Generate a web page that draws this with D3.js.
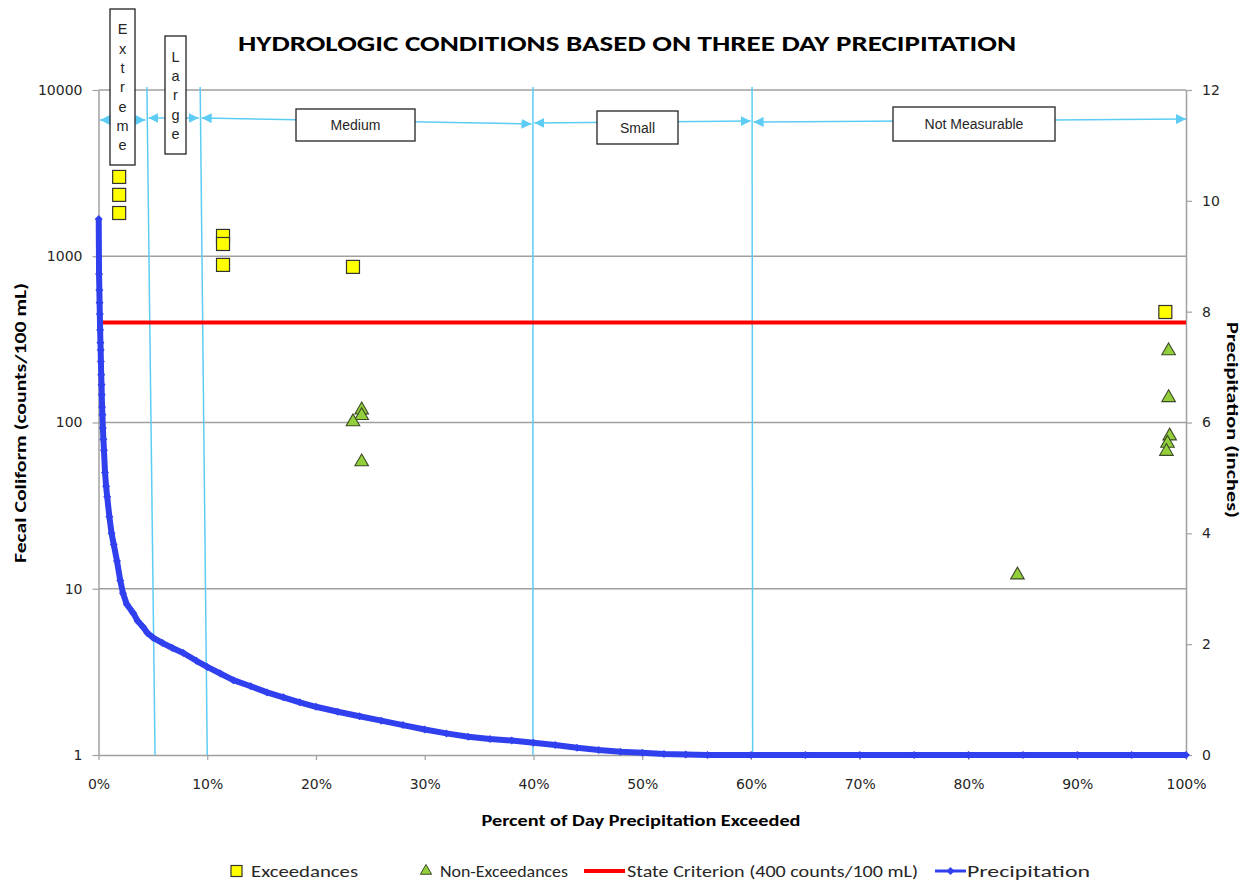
<!DOCTYPE html>
<html>
<head>
<meta charset="utf-8">
<script src="https://cdn.jsdelivr.net/npm/d3@7"></script>
<style>
  body { margin: 0; background: #fff; }
  svg { display: block; }
</style>
</head>
<body>
<div id="chart-area"></div>
<script>
// ---- data ----
const xTicks = [0, 10, 20, 30, 40, 50, 60, 70, 80, 90, 100];
const leftTicks = [1, 10, 100, 1000, 10000];
const rightTicks = [0, 2, 4, 6, 8, 10, 12];

// precipitation exceedance curve (percent exceeded, inches)
const precipPct = [0.02, 0.05, 0.08, 0.1, 0.12, 0.15, 0.18, 0.2, 0.22, 0.25, 0.28, 0.3, 0.33, 0.36,
  0.4, 0.45, 0.5, 0.6, 0.7, 0.8, 1.0, 1.2, 1.4, 1.7, 2.0, 2.25, 2.6, 3.2, 3.6, 4.1, 4.5, 5.0,
  5.9, 6.8, 7.8, 9, 10, 11.2, 12.4, 14, 15.5, 17, 18.5, 20, 22, 24, 26, 28, 30, 32, 34, 36,
  38, 40, 42, 44, 46, 48, 50, 52, 54, 56, 60, 65, 70, 75, 80, 85, 90, 95, 100];
const precipIn = [9.67, 8.68, 8.39, 8.16, 7.96, 7.67, 7.44, 7.31, 7.1, 6.86, 6.68, 6.5, 6.28, 6.14,
  5.9, 5.7, 5.5, 5.1, 4.85, 4.66, 4.3, 4.0, 3.8, 3.5, 3.15, 2.92, 2.72, 2.56, 2.42, 2.31, 2.2, 2.12,
  2.02, 1.93, 1.84, 1.7, 1.59, 1.47, 1.35, 1.24, 1.13, 1.04, 0.95, 0.87, 0.78, 0.7, 0.62, 0.54, 0.46, 0.39, 0.33, 0.29,
  0.26, 0.22, 0.18, 0.13, 0.09, 0.06, 0.04, 0.02, 0.01, 0, 0, 0, 0, 0, 0, 0, 0, 0, 0];

const exceedPct = [1.9, 1.9, 1.9, 11.45, 11.45, 11.45, 23.4, 98.1];
const exceedVal = [3000, 2340, 1820, 1325, 1185, 887, 863, 462];

const nonExceedPct = [24.2, 24.2, 23.4, 24.2, 84.5, 98.4, 98.4, 98.5, 98.3, 98.2];
const nonExceedVal = [119, 110, 101, 58, 12.1, 270, 141, 83, 75, 67];

const criterion = 400;

// hydrologic condition zones
const zoneNames = ["Extreme", "Large", "Medium", "Small", "Not Measurable"];
const zoneBounds = [0, 4.45, 9.35, 39.95, 60.1, 100];
const dividerTop = [4.45, 9.35, 39.95, 60.1];
const dividerBottom = [5.2, 10.0, 39.95, 60.15];

// ---- layout ----
const W = 1248, H = 884;
const plot = {left: 98.5, right: 1186, top: 90, bottom: 755};
const lblBlue = "#5cccf5";
const precipBlue = "#3040ee";
const gridGray = "#a0a0a0";
const txt = "#262626";
const narrow = "Carlito, 'Liberation Sans Narrow', 'Open Sans', sans-serif";

const svg = d3.select("#chart-area").append("svg")
    .attr("width", W).attr("height", H);

const xScale = d3.scaleLinear().domain([0, 100]).range([plot.left, plot.right]);
const yLeft = d3.scaleLog().domain([1, 10000]).range([plot.bottom, plot.top]);
const yRight = d3.scaleLinear().domain([0, 12]).range([plot.bottom, plot.top]);

// gridlines
svg.append("g").selectAll("line")
  .data(leftTicks.filter(d => d > 1))
  .enter().append("line")
  .attr("x1", plot.left).attr("x2", plot.right)
  .attr("y1", d => yLeft(d)).attr("y2", d => yLeft(d))
  .attr("stroke", gridGray).attr("stroke-width", 1.5);

// axes
const xAxisGen = d3.axisBottom(xScale).tickValues(xTicks).tickFormat(d => d + "%")
    .tickSize(5).tickSizeOuter(0).tickPadding(19);
const yAxisGen = d3.axisLeft(yLeft).tickValues(leftTicks).tickFormat(d3.format("d"))
    .tickSize(6).tickSizeOuter(0).tickPadding(10);
const y2AxisGen = d3.axisRight(yRight).tickValues(rightTicks)
    .tickSize(6).tickSizeOuter(0).tickPadding(10);

function styleAxis(g) {
  g.attr("font-family", "'DejaVu Sans', Verdana, sans-serif").attr("font-size", 14);
  g.select(".domain").attr("stroke", gridGray).attr("stroke-width", 1.5);
  g.selectAll(".tick line").attr("stroke", gridGray).attr("stroke-width", 1.2);
  g.selectAll(".tick text").attr("fill", txt);
}

svg.append("g").attr("transform", `translate(0,${plot.bottom})`).call(xAxisGen).call(styleAxis);
svg.append("g").attr("transform", `translate(${plot.left},0)`).call(yAxisGen).call(styleAxis);
svg.append("g").attr("transform", `translate(${plot.right},0)`).call(y2AxisGen).call(styleAxis);

// zone dividers (slightly slanted, hand drawn)
svg.append("g").selectAll("line")
  .data(dividerTop)
  .enter().append("line")
  .attr("x1", d => xScale(d)).attr("y1", plot.top - 3)
  .attr("x2", (d, i) => xScale(dividerBottom[i])).attr("y2", plot.bottom)
  .attr("stroke", lblBlue).attr("stroke-width", 1.5);

// state criterion
svg.append("line")
  .attr("x1", xScale(0.25)).attr("x2", plot.right)
  .attr("y1", yLeft(criterion)).attr("y2", yLeft(criterion))
  .attr("stroke", "#ff0000").attr("stroke-width", 4);

// precipitation curve
const precip = precipPct.map((p, i) => ({p: p, v: precipIn[i]}));
svg.append("path")
  .datum(precip)
  .attr("fill", "none")
  .attr("stroke", precipBlue)
  .attr("stroke-width", 6)
  .attr("stroke-linejoin", "round")
  .attr("d", d3.line().x(d => xScale(d.p)).y(d => yRight(d.v)));

// excel style diamond marker
const diamond = "M0,-4L4,0L0,4L-4,0Z";
svg.append("g").selectAll("path")
  .data(precip)
  .enter().append("path")
  .attr("transform", d => `translate(${xScale(d.p)},${yRight(d.v)})`)
  .attr("d", diamond)
  .attr("fill", precipBlue);

// exceedances
svg.append("g").selectAll("rect")
  .data(exceedPct.map((p, i) => ({p: p, v: exceedVal[i]})))
  .enter().append("rect")
  .attr("x", d => xScale(d.p) - 6.5).attr("y", d => yLeft(d.v) - 6.5)
  .attr("width", 13).attr("height", 13)
  .attr("fill", "#ffff00").attr("stroke", "#333").attr("stroke-width", 1.2);

// non-exceedances
const tri = d3.symbol().type(d3.symbolTriangle).size(80);
svg.append("g").selectAll("path")
  .data(nonExceedPct.map((p, i) => ({p: p, v: nonExceedVal[i]})))
  .enter().append("path")
  .attr("transform", d => `translate(${xScale(d.p)},${yLeft(d.v)})`)
  .attr("d", tri)
  .attr("fill", "#92cf3a").attr("stroke", "#3c4a26").attr("stroke-width", 1.1);

// zone arrows
const defs = svg.append("defs");
defs.append("marker").attr("id", "arrEnd")
  .attr("viewBox", "0 0 10 10").attr("refX", 10).attr("refY", 5)
  .attr("markerWidth", 10).attr("markerHeight", 10).attr("markerUnits", "userSpaceOnUse")
  .attr("orient", "auto")
  .append("path").attr("d", "M0,0 L10,5 L0,10 Z").attr("fill", lblBlue);
defs.append("marker").attr("id", "arrStart")
  .attr("viewBox", "0 0 10 10").attr("refX", 0).attr("refY", 5)
  .attr("markerWidth", 10).attr("markerHeight", 10).attr("markerUnits", "userSpaceOnUse")
  .attr("orient", "auto")
  .append("path").attr("d", "M10,0 L0,5 L10,10 Z").attr("fill", lblBlue);

const arrowY = [[120, 120], [118, 118], [118, 124], [123, 121], [122, 119]];
svg.append("g").selectAll("line")
  .data(zoneNames)
  .enter().append("line")
  .attr("x1", (d, i) => xScale(zoneBounds[i]) + 1.5)
  .attr("x2", (d, i) => xScale(zoneBounds[i + 1]) - (i === 4 ? 0 : 1.5))
  .attr("y1", (d, i) => arrowY[i][0]).attr("y2", (d, i) => arrowY[i][1])
  .attr("stroke", lblBlue).attr("stroke-width", 1.5)
  .attr("marker-start", "url(#arrStart)").attr("marker-end", "url(#arrEnd)");

// zone label boxes
const boxes = [
  {x: 110, y: 9, w: 25, h: 156, vertical: true},
  {x: 165, y: 36, w: 21, h: 118, vertical: true},
  {x: 296, y: 109, w: 119, h: 32},
  {x: 597, y: 111, w: 81, h: 33},
  {x: 893, y: 107, w: 162, h: 34}
];
const boxG = svg.append("g");
boxes.forEach(function(b, i) {
  boxG.append("rect")
    .attr("x", b.x).attr("y", b.y).attr("width", b.w).attr("height", b.h)
    .attr("fill", "#fff").attr("stroke", "#222").attr("stroke-width", 1.3);
  if (b.vertical) {
    const letters = zoneNames[i].split("");
    const step = 19.3;
    const y0 = b.y + b.h / 2 - step * (letters.length - 1) / 2;
    boxG.append("g").selectAll("text")
      .data(letters)
      .enter().append("text")
      .attr("x", b.x + b.w / 2)
      .attr("y", (d, j) => y0 + j * step)
      .attr("dy", "0.36em")
      .attr("text-anchor", "middle")
      .attr("font-family", "'Liberation Sans', Arial, sans-serif")
      .attr("font-size", 14.5)
      .attr("fill", txt)
      .text(d => d);
  } else {
    boxG.append("text")
      .attr("x", b.x + b.w / 2).attr("y", b.y + b.h / 2)
      .attr("dy", "0.36em")
      .attr("text-anchor", "middle")
      .attr("font-family", "'Liberation Sans', Arial, sans-serif")
      .attr("font-size", 14)
      .attr("fill", txt)
      .text(zoneNames[i]);
  }
});

// titles
svg.append("text")
  .attr("x", 627).attr("y", 51)
  .attr("text-anchor", "middle")
  .attr("font-family", narrow).attr("font-weight", "bold").attr("font-size", 22)
  .attr("textLength", 778).attr("lengthAdjust", "spacingAndGlyphs")
  .attr("fill", "#000")
  .text("HYDROLOGIC CONDITIONS BASED ON THREE DAY PRECIPITATION");

svg.append("text")
  .attr("transform", "translate(26,423) rotate(-90)")
  .attr("text-anchor", "middle")
  .attr("font-family", narrow).attr("font-weight", "bold").attr("font-size", 16)
  .attr("textLength", 280).attr("lengthAdjust", "spacingAndGlyphs")
  .text("Fecal Coliform (counts/100 mL)");

svg.append("text")
  .attr("transform", "translate(1227,420) rotate(90)")
  .attr("text-anchor", "middle")
  .attr("font-family", narrow).attr("font-weight", "bold").attr("font-size", 16)
  .attr("textLength", 196).attr("lengthAdjust", "spacingAndGlyphs")
  .text("Precipitation (inches)");

svg.append("text")
  .attr("x", 641).attr("y", 826)
  .attr("text-anchor", "middle")
  .attr("font-family", narrow).attr("font-weight", "bold").attr("font-size", 16)
  .attr("textLength", 319).attr("lengthAdjust", "spacingAndGlyphs")
  .text("Percent of Day Precipitation Exceeded");

// legend
const legY = 871;
const leg = svg.append("g").attr("font-family", narrow).attr("font-size", 16).attr("fill", txt);

leg.append("rect").attr("x", 231).attr("y", legY - 5.5).attr("width", 11).attr("height", 11)
  .attr("fill", "#ffff00").attr("stroke", "#333").attr("stroke-width", 1.2);
leg.append("text").attr("x", 251).attr("y", legY + 6)
  .attr("textLength", 107).attr("lengthAdjust", "spacingAndGlyphs").text("Exceedances");

leg.append("path").attr("transform", `translate(426,${legY})`)
  .attr("d", d3.symbol().type(d3.symbolTriangle).size(55))
  .attr("fill", "#92cf3a").attr("stroke", "#3c4a26").attr("stroke-width", 1);
leg.append("text").attr("x", 440).attr("y", legY + 6)
  .attr("textLength", 128).attr("lengthAdjust", "spacingAndGlyphs").text("Non-Exceedances");

leg.append("line").attr("x1", 584).attr("x2", 625).attr("y1", legY).attr("y2", legY)
  .attr("stroke", "#ff0000").attr("stroke-width", 4);
leg.append("text").attr("x", 627).attr("y", legY + 6)
  .attr("textLength", 291).attr("lengthAdjust", "spacingAndGlyphs").text("State Criterion (400 counts/100 mL)");

leg.append("line").attr("x1", 935).attr("x2", 966).attr("y1", legY).attr("y2", legY)
  .attr("stroke", precipBlue).attr("stroke-width", 3);
leg.append("path").attr("transform", `translate(950.5,${legY})`)
  .attr("d", diamond).attr("fill", precipBlue);
leg.append("text").attr("x", 967).attr("y", legY + 6)
  .attr("textLength", 123).attr("lengthAdjust", "spacingAndGlyphs").text("Precipitation");
</script>
</body>
</html>
